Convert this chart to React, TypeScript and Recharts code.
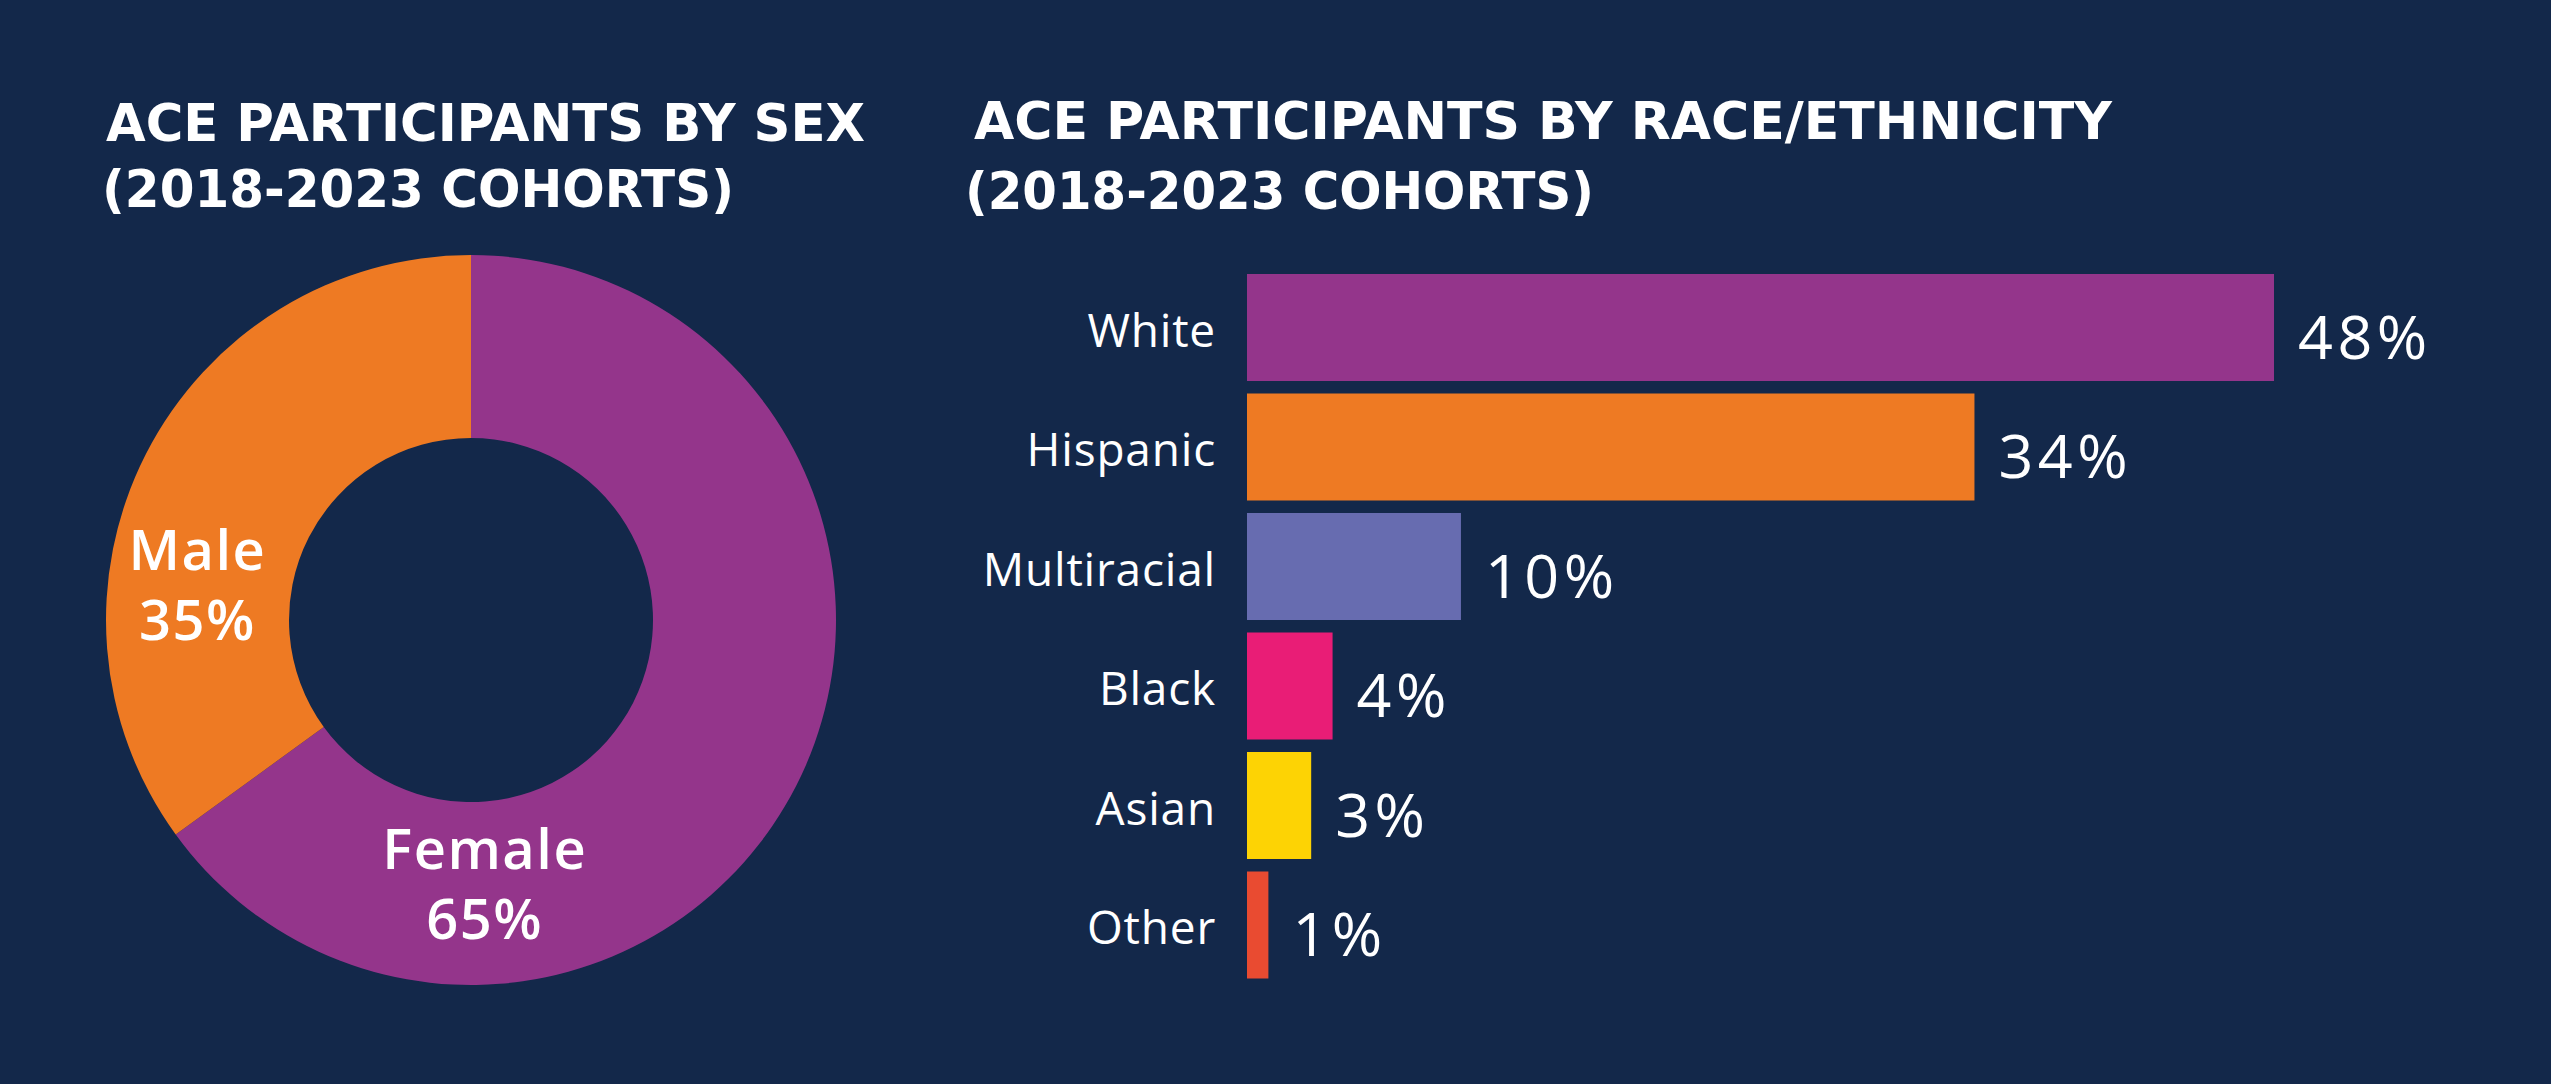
import { Bar, BarChart, Cell, LabelList, Pie, PieChart, XAxis, YAxis } from "recharts"

const sexNames = ["Female", "Male"]
const sexValues = [65, 35]
const sexColors = ["#94358b", "#ee7a23"]

const raceNames = ["White", "Hispanic", "Multiracial", "Black", "Asian", "Other"]
const raceValues = [48, 34, 10, 4, 3, 1]
const raceColors = ["#94358b", "#ee7a23", "#676cb0", "#e91d76", "#fdd304", "#e94b31"]

const sexData = sexNames.map((name, i) => ({ name, value: sexValues[i] }))
const raceData = raceNames.map((name, i) => ({ name, value: raceValues[i] }))

const BG = "#13284a"
const TITLE_FONT = "'DejaVu Sans', sans-serif"
const BODY_FONT = "'Open Sans', sans-serif"

// where the two-line labels sit inside the ring: [angle in degrees, radius]
const labelSpots: Record<string, [number, number]> = {
  Male: [172.5, 276],
  Female: [-87, 263],
}

function SexLabel(props: any) {
  const { cx, cy, name, value } = props
  const [angle, r] = labelSpots[name] ?? [props.midAngle, (props.innerRadius + props.outerRadius) / 2]
  const rad = (angle * Math.PI) / 180
  const x = cx + r * Math.cos(rad)
  const y = cy - r * Math.sin(rad)
  const style = {
    textAnchor: "middle" as const,
    fill: "#ffffff",
    fontFamily: BODY_FONT,
    fontWeight: 600,
    fontSize: 56,
    letterSpacing: 1.5,
  }
  return (
    <g>
      <text x={x} y={y - 14} {...style}>{name}</text>
      <text x={x} y={y + 56} {...style}>{`${value}%`}</text>
    </g>
  )
}

function RaceTick(props: any) {
  const { x, y, payload } = props
  return (
    <text
      x={x}
      y={y + 19}
      textAnchor="end"
      fill="#ffffff"
      fontFamily={BODY_FONT}
      fontWeight={500}
      fontSize={46}
      letterSpacing={0.8}
    >
      {payload.value}
    </text>
  )
}

function ValueLabel(props: any) {
  const { x, y, width, height, value } = props
  return (
    <text
      x={x + width + 24}
      y={y + height / 2 + 31}
      fill="#ffffff"
      fontFamily={BODY_FONT}
      fontSize={61}
      letterSpacing={4.5}
    >
      {`${value}%`}
    </text>
  )
}

function Titles() {
  const common = {
    fill: "#ffffff",
    fontFamily: TITLE_FONT,
    fontWeight: 700,
    fontSize: 52,
    lengthAdjust: "spacingAndGlyphs" as const,
  }
  return (
    <svg
      width={2551}
      height={1084}
      style={{ position: "absolute", left: 0, top: 0, pointerEvents: "none" }}
    >
      <text x={106} y={141} textLength={759} {...common}>ACE PARTICIPANTS BY SEX</text>
      <text x={102} y={207} textLength={632} {...common}>(2018-2023 COHORTS)</text>
      <text x={974} y={139} textLength={1138} {...common}>ACE PARTICIPANTS BY RACE/ETHNICITY</text>
      <text x={965} y={209} textLength={629} {...common}>(2018-2023 COHORTS)</text>
    </svg>
  )
}

export default function App() {
  return (
    <div style={{ position: "relative", width: 2551, height: 1084, background: BG, overflow: "hidden" }}>
      <style>{"body{margin:0}"}</style>

      <div style={{ position: "absolute", left: 0, top: 0 }}>
        <PieChart width={944} height={1084} margin={{ top: 0, right: 0, bottom: 0, left: 0 }}>
          <Pie
            data={sexData}
            dataKey="value"
            nameKey="name"
            cx={471}
            cy={620}
            innerRadius={182}
            outerRadius={365}
            startAngle={90}
            endAngle={-270}
            stroke="none"
            labelLine={false}
            label={SexLabel}
            isAnimationActive={false}
          >
            {sexData.map((d, i) => (
              <Cell key={d.name} fill={sexColors[i]} />
            ))}
          </Pie>
        </PieChart>
      </div>

      <div style={{ position: "absolute", left: 940, top: 0 }}>
        <BarChart
          width={1611}
          height={1084}
          layout="vertical"
          data={raceData}
          margin={{ top: 268, right: 277, left: 0, bottom: 99 }}
        >
          <XAxis type="number" domain={[0, 48]} hide />
          <YAxis
            type="category"
            dataKey="name"
            width={307}
            axisLine={false}
            tickLine={false}
            tickSize={0}
            tickMargin={31}
            interval={0}
            tick={<RaceTick />}
          />
          <Bar dataKey="value" barSize={107} isAnimationActive={false}>
            {raceData.map((d, i) => (
              <Cell key={d.name} fill={raceColors[i]} />
            ))}
            <LabelList dataKey="value" content={<ValueLabel />} />
          </Bar>
        </BarChart>
      </div>

      <Titles />
    </div>
  )
}
